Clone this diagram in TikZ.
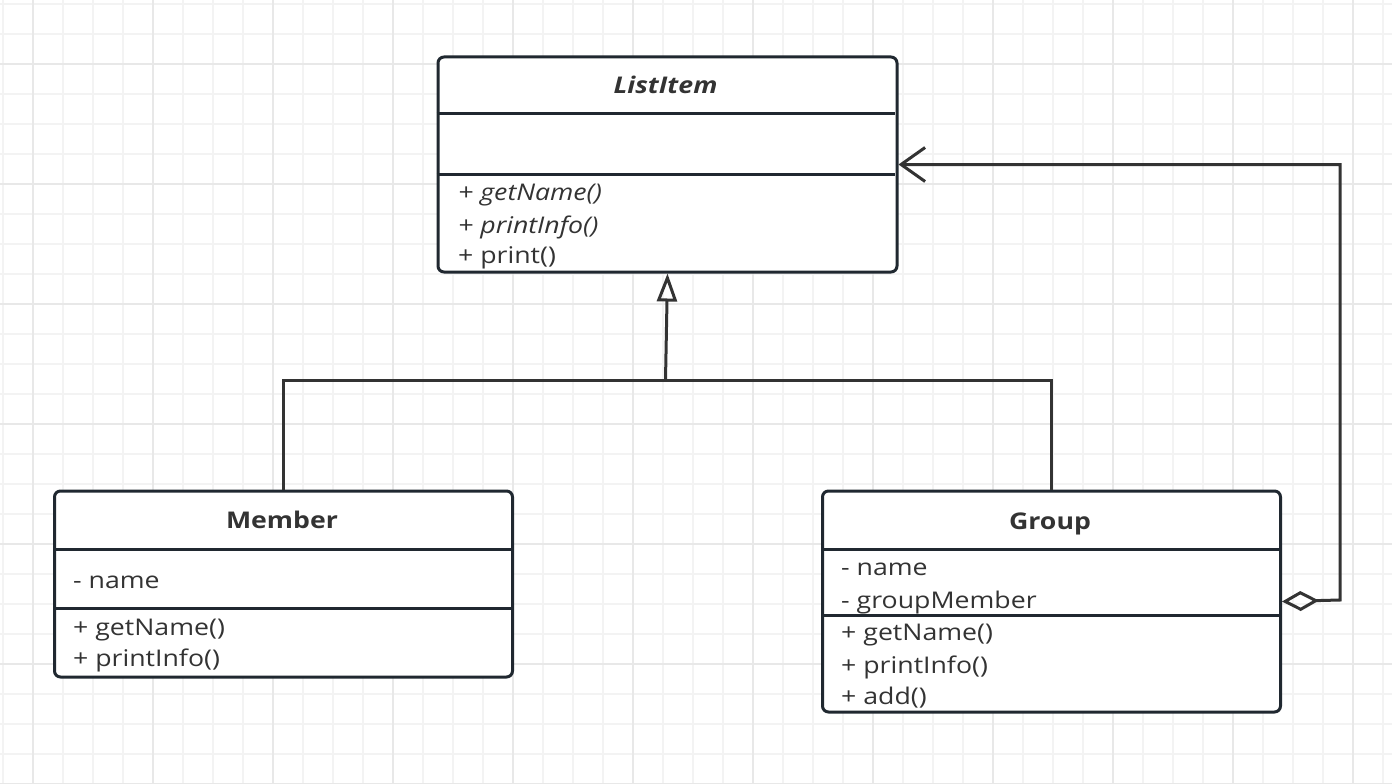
\documentclass[tikz,border=0pt]{standalone}
\usepackage{fontspec}
\setmainfont{Open Sans}[FakeStretch=1.16]
\usetikzlibrary{arrows.meta,calc}
\definecolor{boxline}{RGB}{32,40,48}
\definecolor{connline}{RGB}{51,51,51}
\definecolor{txt}{RGB}{51,51,51}
\definecolor{gridminor}{RGB}{243,243,243}
\definecolor{gridmajor}{RGB}{232,232,232}
\tikzset{
  umlbox/.style={draw=boxline, line width=3pt, rounded corners=6pt, anchor=north west, inner sep=0pt, fill=white},
  sepline/.style={draw=boxline, line width=3pt},
  conn/.style={draw=connline, line width=3pt},
  titletxt/.style={text=txt, font=\fontsize{23}{27}\selectfont\bfseries, anchor=base, inner sep=0pt},
  itemtxt/.style={text=txt, font=\fontsize{23}{27}\selectfont, anchor=base west, inner sep=0pt},
  absitem/.style={itemtxt, font=\fontsize{23}{27}\selectfont\itshape},
}
\begin{document}
\begin{tikzpicture}[x=1pt,y=-1pt]
\useasboundingbox (0,0) rectangle (1392,784);
\fill[white] (0,0) rectangle (1392,784);
% grid
\foreach \i in {0,...,46} {\draw[gridminor, line width=2pt] (3+30*\i,0) -- (3+30*\i,784);}
\foreach \i in {0,...,26} {\draw[gridminor, line width=2pt] (0,4+30*\i) -- (1392,4+30*\i);}
\foreach \i in {0,...,11} {\draw[gridmajor, line width=2pt] (33+120*\i,0) -- (33+120*\i,784);}
\foreach \i in {0,...,6} {\draw[gridmajor, line width=2pt] (0,64+120*\i) -- (1392,64+120*\i);}

% ListItem
\node[umlbox, minimum width=459pt, minimum height=215pt] (listitem) at (436.5,55.5) {};
\draw[sepline] (436.5,113) -- (894.5,113);
\draw[sepline] (436.5,174) -- (894.5,174);
\node[titletxt, font=\fontsize{23}{27}\selectfont\bfseries\itshape] (listitemtitle) at (665.5,93) {ListItem};
\node[absitem] (li1) at (458,200) {+ getName()};
\node[absitem] (li2) at (458,233) {+ printInfo()};
\node[itemtxt] (li3) at (458,263) {+ print()};

% Member
\node[umlbox, minimum width=458pt, minimum height=186pt] (member) at (53,489.5) {};
\draw[sepline] (53,549) -- (511,549);
\draw[sepline] (53,608) -- (511,608);
\node[titletxt] (membertitle) at (282,528) {Member};
\node[itemtxt] (m1) at (73,588) {- name};
\node[itemtxt] (m2) at (73,635) {+ getName()};
\node[itemtxt] (m3) at (73,666) {+ printInfo()};

% Group
\node[umlbox, minimum width=458pt, minimum height=221pt] (group) at (821,489.5) {};
\draw[sepline] (821,549) -- (1279,549);
\draw[sepline] (821,615) -- (1279,615);
\node[titletxt] (grouptitle) at (1050,529) {Group};
\node[itemtxt] (g1) at (841,575) {- name};
\node[itemtxt] (g2) at (841,608) {- groupMember};
\node[itemtxt] (g3) at (841,640) {+ getName()};
\node[itemtxt] (g4) at (841,673) {+ printInfo()};
\node[itemtxt] (g5) at (841,704) {+ add()};

% generalization
\coordinate (junction) at (665.5,380);
\draw[conn] (member.north) |- (junction) -| (group.north);
\draw[conn, -{Triangle[open, length=28pt, width=20pt, line width=3pt]}] (junction) -- (listitem.south);

% aggregation
\coordinate (aggcorner) at (1340,600);
\draw[conn, {Diamond[open, length=37pt, width=20pt, line width=3pt]}-{Straight Barb[length=24pt, width=34pt, line width=3pt]}]
  (group.east) -- (aggcorner) |- (listitem.east);
\end{tikzpicture}
\end{document}
